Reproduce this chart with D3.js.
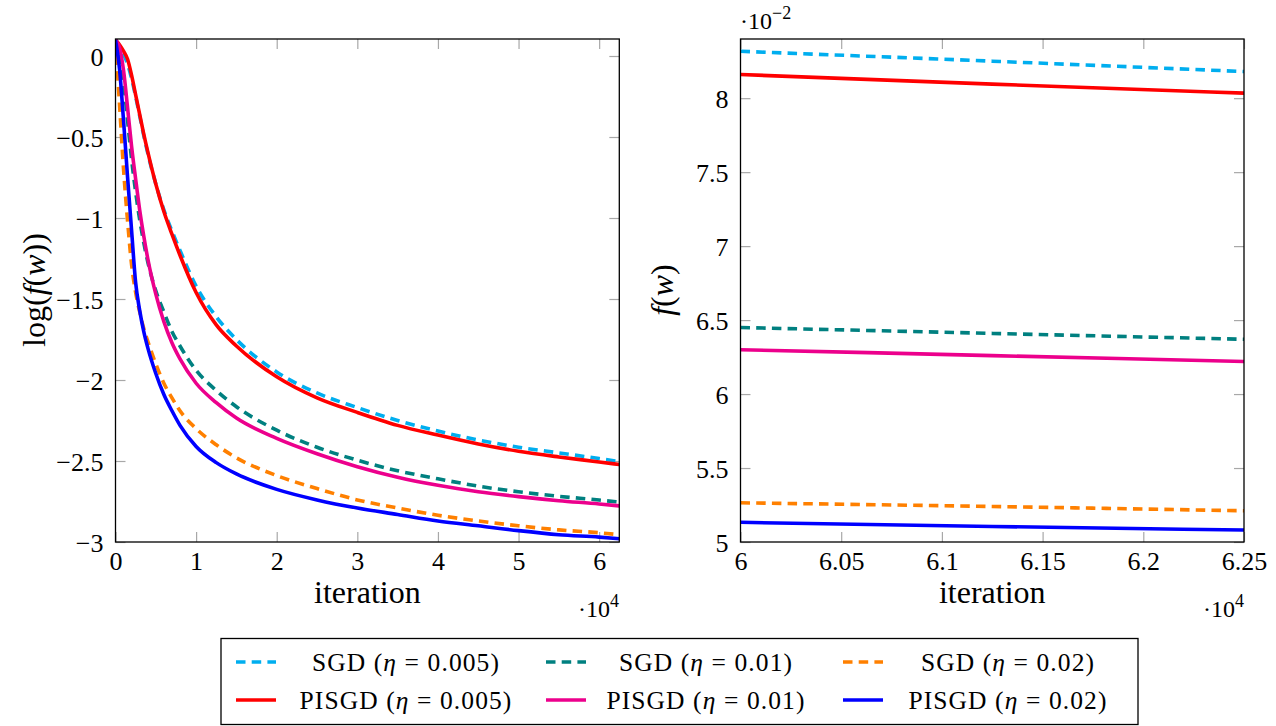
<!DOCTYPE html>
<html>
<head>
<meta charset="utf-8">
<script src="https://cdn.jsdelivr.net/npm/d3@7"></script>
<style>
  body { margin: 0; background: #fff; }
  svg text { font-family: "Liberation Serif", "DejaVu Serif", serif; }
</style>
</head>
<body>
<svg id="chart" width="1276" height="726" font-family="Liberation Serif, DejaVu Serif, serif"></svg>
<script>
// full run, iterations in units of 10^4, values are log(f(w))
const iters = [0, 0.05, 0.1, 0.15, 0.2, 0.25, 0.3, 0.35, 0.4, 0.5, 0.6, 0.7, 0.8, 1, 1.25, 1.5, 2, 2.5, 3, 3.5, 4, 4.5, 5, 5.5, 6, 6.25];
const sgd005   = [0.10, 0.06, 0.01, -0.05, -0.14, -0.25, -0.37, -0.49, -0.60, -0.79, -0.95, -1.08, -1.20, -1.42, -1.61, -1.75, -1.95, -2.08, -2.17, -2.25, -2.315, -2.37, -2.415, -2.45, -2.485, -2.503];
const sgd01    = [0.10, 0.02, -0.16, -0.40, -0.64, -0.84, -1.01, -1.15, -1.27, -1.45, -1.58, -1.70, -1.79, -1.94, -2.065, -2.165, -2.31, -2.415, -2.495, -2.56, -2.61, -2.655, -2.69, -2.718, -2.741, -2.754];
const sgd02    = [0.10, -0.30, -0.70, -1.02, -1.29, -1.46, -1.58, -1.68, -1.76, -1.90, -2.02, -2.11, -2.19, -2.30, -2.40, -2.48, -2.59, -2.67, -2.74, -2.79, -2.835, -2.87, -2.90, -2.925, -2.943, -2.955];
const pisgd005 = [0.10, 0.07, 0.03, -0.02, -0.12, -0.24, -0.36, -0.48, -0.59, -0.79, -0.96, -1.10, -1.23, -1.46, -1.66, -1.79, -1.98, -2.11, -2.20, -2.28, -2.34, -2.395, -2.44, -2.475, -2.506, -2.522];
const pisgd01  = [0.10, 0.05, -0.09, -0.32, -0.56, -0.76, -0.95, -1.11, -1.25, -1.47, -1.64, -1.77, -1.87, -2.02, -2.14, -2.235, -2.36, -2.455, -2.535, -2.60, -2.65, -2.69, -2.72, -2.745, -2.765, -2.777];
const pisgd02  = [0.10, -0.08, -0.40, -0.75, -1.08, -1.40, -1.57, -1.70, -1.80, -1.96, -2.09, -2.19, -2.28, -2.41, -2.51, -2.58, -2.675, -2.74, -2.79, -2.83, -2.87, -2.90, -2.93, -2.955, -2.97, -2.98];

// zoomed tail, iterations in 10^4, f(w) in 10^-2
const zoomIters = [6, 6.125, 6.25];
const zSgd005   = [8.317, 8.25, 8.18];
const zSgd01    = [6.45, 6.41, 6.37];
const zSgd02    = [5.265, 5.24, 5.211];
const zPisgd005 = [8.16, 8.095, 8.034];
const zPisgd01  = [6.30, 6.26, 6.22];
const zPisgd02  = [5.133, 5.105, 5.081];

const leftXTicks = [0, 1, 2, 3, 4, 5, 6];
const leftYTicks = [0, -0.5, -1, -1.5, -2, -2.5, -3];
const rightXTicks = [6, 6.05, 6.1, 6.15, 6.2, 6.25];
const rightYTicks = [5, 5.5, 6, 6.5, 7, 7.5, 8];

const series = [
  { method: 'SGD',   eta: '0.005', color: '#00aeef', dashed: true,  full: sgd005,   zoom: zSgd005 },
  { method: 'SGD',   eta: '0.01',  color: '#008080', dashed: true,  full: sgd01,    zoom: zSgd01 },
  { method: 'SGD',   eta: '0.02',  color: '#ff8000', dashed: true,  full: sgd02,    zoom: zSgd02 },
  { method: 'PISGD', eta: '0.005', color: '#ff0000', dashed: false, full: pisgd005, zoom: zPisgd005 },
  { method: 'PISGD', eta: '0.01',  color: '#ec008c', dashed: false, full: pisgd01,  zoom: zPisgd01 },
  { method: 'PISGD', eta: '0.02',  color: '#0000ff', dashed: false, full: pisgd02,  zoom: zPisgd02 }
];

const svg = d3.select('#chart');
const fmt = d3.format('~g');
const FONT = 'Liberation Serif, DejaVu Serif, serif';
const DASH = '9.5,6.2';

function styleLine(sel, s) {
  sel.attr('fill', 'none')
    .attr('stroke', s.color)
    .attr('stroke-width', 3.6)
    .attr('stroke-dasharray', s.dashed ? DASH : null);
}

function drawPanel(box, xDomain, yDomain, xTicks, yTicks, xs, key, id) {
  const x = d3.scaleLinear().domain(xDomain).range([box.left, box.right]);
  const y = d3.scaleLinear().domain(yDomain).range([box.bottom, box.top]);
  const g = svg.append('g');

  g.append('clipPath').attr('id', id)
    .append('rect')
    .attr('x', box.left).attr('y', box.top)
    .attr('width', box.right - box.left).attr('height', box.bottom - box.top);

  const axes = [
    [d3.axisBottom(x).tickValues(xTicks).tickFormat(fmt), box.bottom, 'x'],
    [d3.axisTop(x).tickValues(xTicks).tickFormat(''), box.top, 'x'],
    [d3.axisLeft(y).tickValues(yTicks).tickFormat(fmt), box.left, 'y'],
    [d3.axisRight(y).tickValues(yTicks).tickFormat(''), box.right, 'y']
  ];
  axes.forEach(([ax, pos, dir]) => {
    ax.tickSize(-10).tickPadding(dir === 'x' ? 10 : 12);
    const a = g.append('g')
      .attr('transform', dir === 'x' ? `translate(0,${pos})` : `translate(${pos},0)`)
      .call(ax);
    a.attr('font-family', FONT).attr('font-size', 26);
    a.select('.domain').remove();
    a.selectAll('.tick line').attr('stroke', '#a8a8a8').attr('stroke-width', 1.2);
    a.selectAll('.tick text').attr('fill', '#000');
    if (dir === 'y') a.selectAll('.tick text').attr('dy', '0.35em');
  });

  const line = d3.line()
    .x((d, i) => x(xs[i]))
    .y(d => y(d))
    .curve(d3.curveMonotoneX);

  const plot = g.append('g').attr('clip-path', `url(#${id})`);
  series.filter(s => s.dashed).concat(series.filter(s => !s.dashed)).forEach(s => {
    plot.append('path').datum(s[key]).attr('d', line).call(styleLine, s);
  });

  g.append('rect')
    .attr('x', box.left).attr('y', box.top)
    .attr('width', box.right - box.left).attr('height', box.bottom - box.top)
    .attr('fill', 'none').attr('stroke', '#000').attr('stroke-width', 1.3);

  return g;
}

const leftBox = { left: 115.5, right: 619.3, top: 39, bottom: 542 };
const rightBox = { left: 740.5, right: 1244, top: 39, bottom: 542 };

const gl = drawPanel(leftBox, [0, 6.25], [-3, 0.105], leftXTicks, leftYTicks, iters, 'full', 'clipL');
const gr = drawPanel(rightBox, [6, 6.25], [5, 8.4], rightXTicks, rightYTicks, zoomIters, 'zoom', 'clipR');

// axis labels
function xLabel(g, box) {
  g.append('text')
    .attr('x', (box.left + box.right) / 2).attr('y', 603)
    .attr('text-anchor', 'middle').attr('font-size', 32)
    .attr('font-family', FONT)
    .text('iteration');
}
xLabel(gl, leftBox);
xLabel(gr, rightBox);

function scaleNote(g, xPos, yPos, anchor, exp) {
  const t = g.append('text')
    .attr('x', xPos).attr('y', yPos)
    .attr('text-anchor', anchor).attr('font-size', 24)
    .attr('font-family', FONT);
  t.append('tspan').text('·10');
  t.append('tspan').attr('dy', -10).attr('font-size', 18).text(exp);
}
scaleNote(gl, 619, 617, 'end', '4');
scaleNote(gr, 1244, 617, 'end', '4');
scaleNote(gr, 740, 29, 'start', '−2');

function yLabel(g, xPos, parts) {
  const t = g.append('text')
    .attr('transform', `translate(${xPos},290) rotate(-90)`)
    .attr('text-anchor', 'middle').attr('font-size', 32)
    .attr('font-family', FONT);
  parts.forEach(([txt, it]) => {
    t.append('tspan').attr('font-style', it ? 'italic' : null).text(txt);
  });
}
yLabel(gl, 45, [['log(', false], ['f', true], ['(', false], ['w', true], ['))', false]]);
yLabel(gr, 673, [['f', true], ['(', false], ['w', true], [')', false]]);

// legend
const legend = svg.append('g');
legend.append('rect')
  .attr('x', 221).attr('y', 638.5).attr('width', 917).attr('height', 86)
  .attr('fill', '#fff').attr('stroke', '#000').attr('stroke-width', 1.3);

const colX = [236, 546, 843];
const textX = [406, 706, 1008];
const rowY = [662, 700];
series.forEach((s, i) => {
  const col = i % 3, row = Math.floor(i / 3);
  legend.append('line')
    .attr('x1', colX[col]).attr('x2', colX[col] + 40)
    .attr('y1', rowY[row]).attr('y2', rowY[row])
    .call(styleLine, s);
  const t = legend.append('text')
    .attr('x', textX[col]).attr('y', rowY[row]).attr('dy', '0.35em')
    .attr('text-anchor', 'middle').attr('font-size', 25.5)
    .attr('letter-spacing', 1.1)
    .attr('font-family', FONT)
    .attr('xml:space', 'preserve');
  t.append('tspan').text(s.method + ' (');
  t.append('tspan').attr('font-style', 'italic').text('η');
  t.append('tspan').text(' = ' + s.eta + ')');
});
</script>
</body>
</html>
